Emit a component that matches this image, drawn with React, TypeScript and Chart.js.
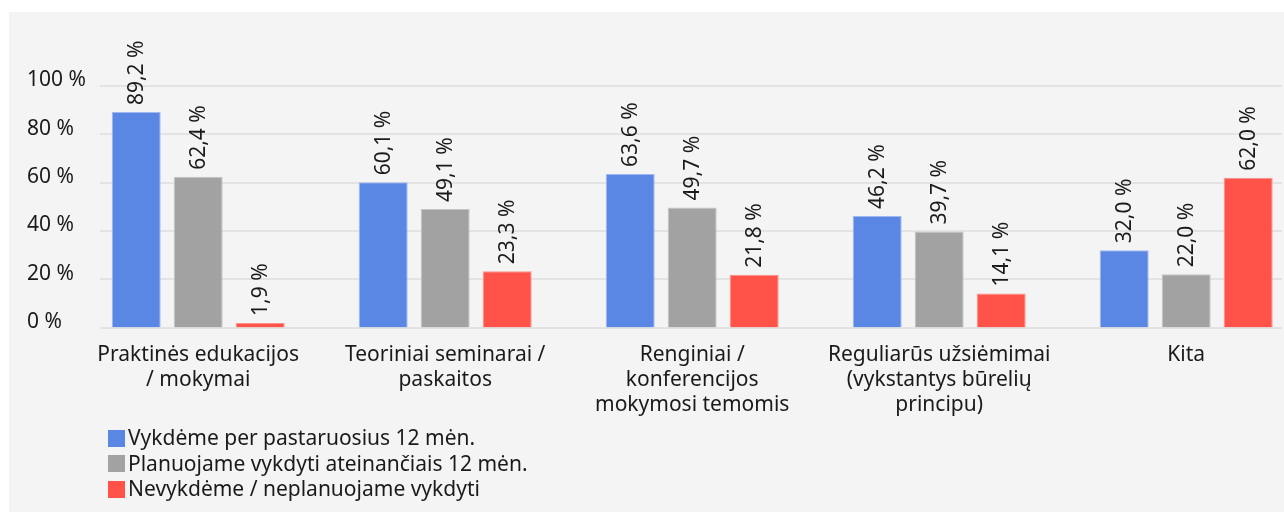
import React, { useEffect, useRef } from 'react';
import { Chart, registerables } from 'chart.js';

Chart.register(...registerables);

const categories: string[][] = [
  ['Praktinės edukacijos', '/ mokymai'],
  ['Teoriniai seminarai /', 'paskaitos'],
  ['Renginiai /', 'konferencijos', 'mokymosi temomis'],
  ['Reguliarūs užsiėmimai', '(vykstantys būrelių', 'principu)'],
  ['Kita'],
];

const seriesNames = [
  'Vykdėme per pastaruosius 12 mėn.',
  'Planuojame vykdyti ateinančiais 12 mėn.',
  'Nevykdėme / neplanuojame vykdyti',
];

const doneValues = [89.2, 60.1, 63.6, 46.2, 32.0];
const plannedValues = [62.4, 49.1, 49.7, 39.7, 22.0];
const notValues = [1.9, 23.3, 21.8, 14.1, 62.0];

const yTicks = [0, 20, 40, 60, 80, 100];

const seriesColors = ['#5b87e4', '#a2a2a2', '#ff5248'];
const seriesBorders = ['#9fb8ee', '#c4c4c4', '#ff9089'];

const FONT = '"Noto Sans", sans-serif';
const TEXT = '#1a1a1a';

const fmt = (v: number) => v.toFixed(1).replace('.', ',') + ' %';

const gridPlugin = {
  id: 'customGrid',
  beforeDatasetsDraw(chart: any) {
    const y = chart.scales.y;
    const ctx = chart.ctx;
    ctx.save();
    ctx.strokeStyle = '#e3e3e3';
    ctx.lineWidth = 2;
    yTicks.forEach((t) => {
      const py = Math.round(y.getPixelForValue(t));
      ctx.beginPath();
      ctx.moveTo(100, py);
      ctx.lineTo(1282, py);
      ctx.stroke();
    });
    ctx.restore();
  },
};

const labelPlugin = {
  id: 'barLabels',
  afterDatasetsDraw(chart: any) {
    const ctx = chart.ctx;
    ctx.save();
    ctx.font = `21px ${FONT}`;
    ctx.fillStyle = TEXT;
    chart.data.datasets.forEach((ds: any, i: number) => {
      const meta = chart.getDatasetMeta(i);
      meta.data.forEach((el: any, j: number) => {
        ctx.save();
        ctx.translate(el.x + 1, el.y - 7);
        ctx.rotate(-Math.PI / 2);
        ctx.textAlign = 'left';
        ctx.textBaseline = 'middle';
        ctx.fillText(fmt(ds.data[j]), 0, 0);
        ctx.restore();
      });
    });
    ctx.restore();
  },
};

export default function App() {
  const ref = useRef<HTMLCanvasElement | null>(null);

  useEffect(() => {
    if (!ref.current) return;
    Chart.defaults.font.family = FONT;
    Chart.defaults.color = TEXT;
    const values = [doneValues, plannedValues, notValues];
    const chart = new Chart(ref.current, {
      type: 'bar',
      data: {
        labels: categories,
        datasets: values.map((d, i) => ({
          label: seriesNames[i],
          data: d,
          backgroundColor: seriesColors[i],
          borderColor: seriesBorders[i],
          borderWidth: 1,
          barPercentage: 0.79,
          categoryPercentage: 0.753,
        })),
      },
      options: {
        responsive: false,
        animation: false,
        layout: { padding: { left: 27, right: 30.3, top: 74, bottom: 4.5 } },
        plugins: { legend: { display: false }, tooltip: { enabled: false } },
        scales: {
          x: {
            offset: true,
            grid: { display: false, drawTicks: false },
            border: { display: false },
            ticks: {
              maxRotation: 0,
              minRotation: 0,
              autoSkip: false,
              padding: 15,
              color: TEXT,
              font: { size: 21, lineHeight: '25px' },
            },
            afterFit: (s: any) => {
              s.height = 100;
            },
          },
          y: {
            min: 0,
            max: 100,
            grid: { display: false, drawTicks: false },
            border: { display: false },
            ticks: {
              stepSize: 20,
              mirror: true,
              labelOffset: -5.5,
              padding: -47.7,
              color: TEXT,
              font: { size: 21 },
              callback: (v: any) => `${v} %`,
            },
            afterFit: (s: any) => {
              s.width = 47.7;
            },
          },
        },
      } as any,
      plugins: [gridPlugin, labelPlugin],
    });
    return () => chart.destroy();
  }, []);

  return (
    <div
      style={{
        position: 'fixed',
        left: 9,
        top: 12,
        width: 1275,
        height: 500,
        background: '#f4f4f4',
        overflow: 'hidden',
      }}
    >
      <canvas
        ref={ref}
        width={1340}
        height={420}
        style={{ position: 'absolute', left: -9, top: 0, display: 'block' }}
      />
      <div
        style={{
          position: 'absolute',
          left: 99,
          top: 413.25,
          fontFamily: FONT,
          fontSize: 21,
          color: TEXT,
        }}
      >
        {seriesNames.map((n, i) => (
          <div
            key={n}
            style={{ display: 'flex', alignItems: 'center', height: 25.5, whiteSpace: 'nowrap' }}
          >
            <span
              style={{
                display: 'inline-block',
                width: 17,
                height: 17,
                background: seriesColors[i],
                marginRight: 3,
                flex: '0 0 auto',
              }}
            />
            <span style={{ lineHeight: '25.5px' }}>{n}</span>
          </div>
        ))}
      </div>
    </div>
  );
}
